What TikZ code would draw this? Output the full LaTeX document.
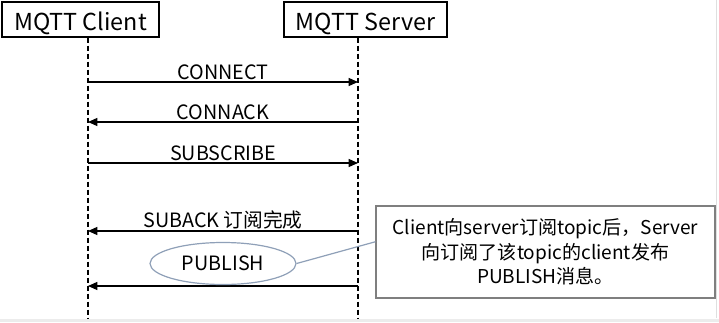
\documentclass[tikz,border=0pt]{standalone}
\usepackage{fontspec}
\setmainfont{Noto Sans CJK SC}
\usetikzlibrary{arrows.meta,shapes.geometric,calc}
\definecolor{ellc}{HTML}{8FA0B8}
\definecolor{notec}{HTML}{7F7F7F}
\begin{document}
\begin{tikzpicture}[x=0.75pt,y=-0.75pt,
  hdr/.style={draw=black,line width=1pt,minimum width=117.75pt,minimum height=26.25pt,inner sep=0pt,text height=17pt,text depth=0pt,font=\fontsize{17.5}{19}\selectfont},
  lifeline/.style={draw=black,line width=0.9pt,dash pattern=on 4pt off 2pt},
  msg/.style={draw=black,line width=0.9pt,-{Triangle[length=7pt,width=6pt]}},
  lbl/.style={font=\fontsize{14.8}{16}\selectfont,inner sep=1pt,anchor=south},
  pubell/.style={ellipse,draw=ellc,line width=0.9pt,minimum width=109.5pt,minimum height=31.5pt,inner sep=0pt,font=\fontsize{14.8}{16}\selectfont},
  notebox/.style={draw=notec,line width=0.9pt,minimum width=254.25pt,minimum height=69pt,inner sep=0pt,align=center,font=\fontsize{14.3}{18.5}\selectfont}]
\useasboundingbox (0,0) rectangle (719,322);
\fill[white] (0,0) rectangle (719,322);
% faint frame of screenshot
\draw[gray!25,line width=0.8pt] (716.5,0) -- (716.5,318);
\fill[gray!15] (0,319) rectangle (719,322);

\node[hdr] (client) at (80.5,19.5) {MQTT Client};
\node[hdr,minimum width=122.25pt] (server) at (365.5,19.5) {MQTT Server};

\coordinate (ct) at (88,37.5);
\coordinate (cb) at (88,319);
\coordinate (st) at (358,37.5);
\coordinate (sb) at (358,319);
\draw[lifeline] (ct) -- (cb);
\draw[lifeline] (st) -- (sb);

\coordinate (c1) at (88,82);  \coordinate (s1) at (358,82);
\coordinate (c2) at (88,122); \coordinate (s2) at (358,122);
\coordinate (c3) at (88,163); \coordinate (s3) at (358,163);
\coordinate (c4) at (88,231); \coordinate (s4) at (358,231);
\coordinate (c5) at (88,286); \coordinate (s5) at (358,286);

\draw[msg] (c1) -- node[lbl] (l1) {CONNECT} (s1);
\draw[msg] (s2) -- node[lbl] (l2) {CONNACK} (c2);
\draw[msg] (c3) -- node[lbl] (l3) {SUBSCRIBE} (s3);
\draw[msg] (s4) -- node[lbl] (l4) {SUBACK 订阅完成} (c4);
\draw[msg] (s5) -- (c5);

\node[pubell] (pub) at (223,263.5) {PUBLISH};
\node[notebox] (note) at (545.5,252) {Client向server订阅topic后，Server\\向订阅了该topic的client发布\\PUBLISH消息。};
\coordinate (nl) at ($(note.north west)!0.39!(note.south west)$);
\draw[ellc,line width=0.9pt] (pub.east) -- (nl);
\end{tikzpicture}
\end{document}
